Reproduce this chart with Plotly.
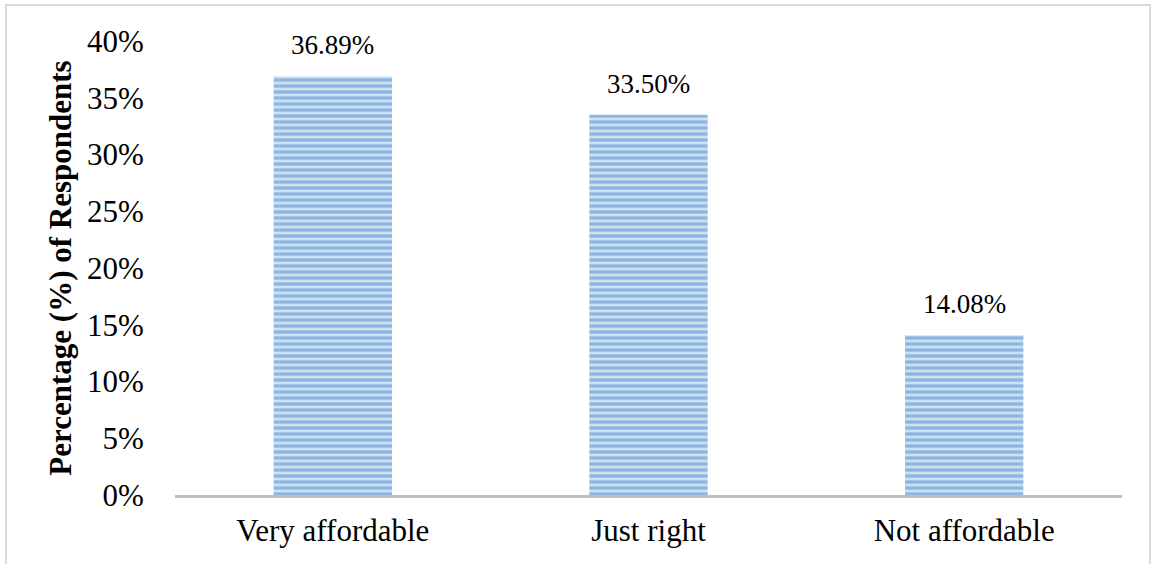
import plotly.graph_objects as go

categories = ["Very affordable", "Just right", "Not affordable"]
values = [0.3689, 0.3350, 0.1408]
labels = ["36.89%", "33.50%", "14.08%"]
tick_vals = [0, 0.05, 0.10, 0.15, 0.20, 0.25, 0.30, 0.35, 0.40]

FONT = "Liberation Serif, Times New Roman, serif"

fig = go.Figure(go.Bar(
    x=categories, y=values,
    width=0.375,
    marker=dict(
        color="#d6e5f5",
        line=dict(width=0),
        pattern=dict(shape="-", fgcolor="#4a8dd2", bgcolor="#cfe0f3", size=6, solidity=0.55),
    ),
))

for c, v, t in zip(categories, values, labels):
    fig.add_annotation(x=c, y=v, text=t, showarrow=False, yanchor="bottom",
                       yshift=14, font=dict(family=FONT, size=27, color="#000000"))

fig.update_layout(
    width=1153, height=564,
    margin=dict(l=175, r=31, t=41, b=69),
    paper_bgcolor="white", plot_bgcolor="white",
    showlegend=False,
    font=dict(family=FONT, color="#000000"),
    xaxis=dict(
        automargin=False,
        showgrid=False, showline=True, linecolor="#bfbfbf", linewidth=3,
        tickfont=dict(family=FONT, size=31), ticks="outside", ticklen=6, tickcolor="rgba(0,0,0,0)",
    ),
    yaxis=dict(
        automargin=False,
        range=[0, 0.4], tickvals=tick_vals, tickformat=".0%",
        showgrid=False, zeroline=False, showline=False,
        tickfont=dict(family=FONT, size=31), ticks="outside", ticklen=24, tickcolor="rgba(0,0,0,0)",
        title=dict(text="<b>Percentage (%) of Respondents</b>", font=dict(family=FONT, size=31), standoff=6),
    ),
    shapes=[dict(type="rect", xref="paper", yref="paper",
                 x0=-0.1785, x1=1.0296, y0=-0.16, y1=1.0793,
                 line=dict(color="#d9d9d9", width=2), fillcolor="rgba(0,0,0,0)", layer="below")],
)

fig.write_html("out.html", config={"displayModeBar": False},
               post_script="document.body.style.margin='0';")
